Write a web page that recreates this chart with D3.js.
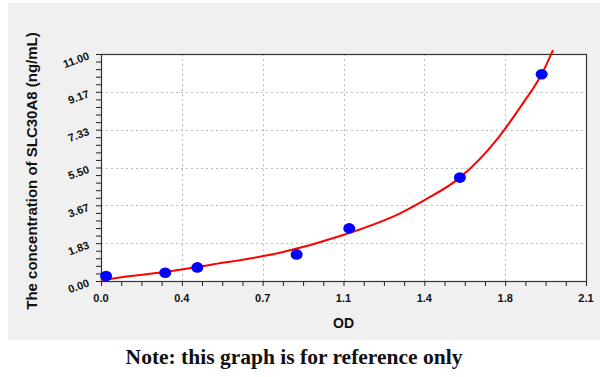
<!DOCTYPE html>
<html>
<head>
<meta charset="utf-8">
<script src="https://cdn.jsdelivr.net/npm/d3@7"></script>
<style>
  html, body { margin: 0; padding: 0; background: #fff; }
  svg { display: block; }
</style>
</head>
<body>
<div class="chart"></div>
<script>
// standard points (OD, concentration)
const pointOD = [0.022, 0.278, 0.417, 0.847, 1.075, 1.554, 1.908];
const pointConc = [0.24, 0.40, 0.66, 1.29, 2.55, 5.01, 10.02];

// fitted curve
const curveOD = [0.0, 0.126, 0.284, 0.472, 0.775, 1.049, 1.295, 1.403, 1.554, 1.712, 1.828, 1.908, 1.957];
const curveConc = [0.03, 0.24, 0.45, 0.78, 1.37, 2.23, 3.28, 3.93, 5.01, 6.83, 8.63, 10.02, 11.19];

const xTicks = [0, 0.35, 0.7, 1.05, 1.4, 1.75, 2.1];
const xTickLabels = ["0.0", "0.4", "0.7", "1.1", "1.4", "1.8", "2.1"];
const yTicks = [0, 11 / 6, 22 / 6, 33 / 6, 44 / 6, 55 / 6, 11];
const yTickLabels = ["0.00", "1.83", "3.67", "5.50", "7.33", "9.17", "11.00"];

const width = 600, height = 377;
const margin = {top: 54, right: 14, bottom: 96, left: 101};

const svg = d3.select(".chart")
  .append("svg")
    .attr("width", width)
    .attr("height", height);

// grey panel behind the chart
svg.append("rect")
  .attr("x", 8).attr("y", 3)
  .attr("width", 592).attr("height", 337)
  .attr("fill", "#f0f0f0");

const x = d3.scaleLinear()
  .domain([0, 2.1])
  .range([margin.left, width - margin.right]);

const y = d3.scaleLinear()
  .domain([0, 11])
  .range([height - margin.bottom, margin.top]);

svg.append("rect")
  .attr("x", x(0)).attr("y", y(11))
  .attr("width", x(2.1) - x(0)).attr("height", y(0) - y(11))
  .attr("fill", "#fff");

// dotted grid
const grid = svg.append("g")
  .attr("stroke", "#bdbdbd")
  .attr("stroke-width", 1)
  .attr("stroke-dasharray", "2,3");

grid.selectAll(".vg")
  .data(xTicks.slice(1, -1))
  .join("line")
    .attr("x1", d => Math.round(x(d)) + 0.5)
    .attr("x2", d => Math.round(x(d)) + 0.5)
    .attr("y1", y(11)).attr("y2", y(0));

grid.selectAll(".hg")
  .data(yTicks.slice(1, -1))
  .join("line")
    .attr("y1", d => Math.round(y(d)) + 0.5)
    .attr("y2", d => Math.round(y(d)) + 0.5)
    .attr("x1", x(0)).attr("x2", x(2.1));

// minor ticks
const xMinor = d3.range(0, 24.5).map(i => i * 0.0875);
const yMinor = d3.range(0, 30.5).map(i => i * 11 / 30);

const xAxis = g => g
  .attr("transform", `translate(0, ${y(0)})`)
  .call(d3.axisBottom(x).tickValues(xMinor).tickSize(5).tickFormat("").tickSizeOuter(0))
  .call(g => g.select(".domain").remove())
  .call(g => g.selectAll(".tick line").attr("stroke", "#222"));

const yAxis = g => g
  .attr("transform", `translate(${x(0)}, 0)`)
  .call(d3.axisLeft(y).tickValues(yMinor).tickSize(5).tickFormat("").tickSizeOuter(0))
  .call(g => g.select(".domain").remove())
  .call(g => g.selectAll(".tick line").attr("stroke", "#222"));

svg.append("g").call(xAxis);
svg.append("g").call(yAxis);

// plot frame
svg.append("rect")
  .attr("x", x(0) + 0.5).attr("y", y(11) + 0.5)
  .attr("width", x(2.1) - x(0)).attr("height", y(0) - y(11))
  .attr("fill", "none")
  .attr("stroke", "#333")
  .attr("stroke-width", 1.2);

// tick labels
svg.append("g")
  .attr("font-family", "Liberation Sans, Arial, sans-serif")
  .attr("font-weight", "bold")
  .attr("font-size", 11)
  .attr("fill", "#111")
  .selectAll("text")
  .data(xTicks)
  .join("text")
    .attr("x", d => x(d))
    .attr("y", y(0) + 21)
    .attr("text-anchor", "middle")
    .text((d, i) => xTickLabels[i]);

svg.append("g")
  .attr("font-family", "Liberation Sans, Arial, sans-serif")
  .attr("font-weight", "bold")
  .attr("font-size", 11)
  .attr("fill", "#111")
  .selectAll("text")
  .data(yTicks)
  .join("text")
    .attr("transform", d => `translate(${x(0) - 11}, ${y(d) + 5}) rotate(-20)`)
    .attr("text-anchor", "end")
    .text((d, i) => yTickLabels[i]);

// fitted curve
const line = d3.line()
  .x((d, i) => x(curveOD[i]))
  .y((d, i) => y(curveConc[i]))
  .curve(d3.curveMonotoneX);

svg.append("path")
  .datum(curveOD)
  .attr("fill", "none")
  .attr("stroke", "#ff0000")
  .attr("stroke-width", 2)
  .attr("d", line);

// standard points
svg.append("g")
  .attr("fill", "#0000ff")
  .selectAll("ellipse")
  .data(pointOD)
  .join("ellipse")
    .attr("cx", d => x(d))
    .attr("cy", (d, i) => y(pointConc[i]))
    .attr("rx", 6)
    .attr("ry", 5.3);

// axis titles
svg.append("text")
  .attr("x", (x(0) + x(2.1)) / 2)
  .attr("y", 328)
  .attr("text-anchor", "middle")
  .attr("font-family", "Liberation Sans, Arial, sans-serif")
  .attr("font-weight", "bold")
  .attr("font-size", 14)
  .attr("fill", "#111")
  .text("OD");

svg.append("text")
  .attr("transform", `translate(37, 171) rotate(-90)`)
  .attr("text-anchor", "middle")
  .attr("font-family", "Liberation Sans, Arial, sans-serif")
  .attr("font-weight", "bold")
  .attr("font-size", 15)
  .attr("fill", "#111")
  .text("The concentration of SLC30A8 (ng/mL)");

svg.append("text")
  .attr("x", 294)
  .attr("y", 364)
  .attr("text-anchor", "middle")
  .attr("font-family", "Liberation Serif, serif")
  .attr("font-weight", "bold")
  .attr("font-size", 21.5)
  .attr("fill", "#111")
  .text("Note: this graph is for reference only");
</script>
</body>
</html>
